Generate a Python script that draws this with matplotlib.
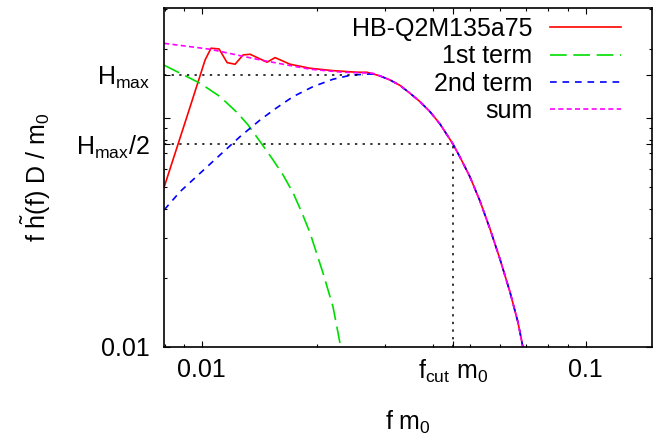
import matplotlib
matplotlib.use("Agg")
import matplotlib.pyplot as plt
from matplotlib.ticker import FixedLocator, LogLocator, NullFormatter

plt.rcParams['font.family'] = ['Liberation Sans', 'DejaVu Sans']
plt.rcParams['mathtext.fontset'] = 'custom'
plt.rcParams['mathtext.rm'] = 'Liberation Sans'
plt.rcParams['mathtext.it'] = 'Liberation Sans'
plt.rcParams['mathtext.bf'] = 'Liberation Sans:bold'

# ---- data ----
# shared high-frequency fall-off (all three of red / 2nd term / sum coincide there)
f_tail = [0.02912, 0.03093, 0.03284, 0.03487, 0.03703, 0.03932, 0.04175, 0.04512,
          0.04707, 0.04998, 0.05307, 0.05635, 0.05984, 0.06354, 0.06664, 0.06866]
h_tail = [0.1526, 0.1465, 0.1387, 0.1282, 0.1178, 0.1065, 0.0941, 0.0770,
          0.0675, 0.0553, 0.0434, 0.0328, 0.0242, 0.01739, 0.01285, 0.0100]

f_red_head = [0.00798, 0.00932, 0.01020, 0.01057, 0.01109, 0.01164, 0.01221, 0.01281,
              0.01336, 0.01479, 0.01552, 0.01698, 0.01914, 0.02198, 0.02537, 0.02695]
h_red_head = [0.0500, 0.1117, 0.1792, 0.2016, 0.2001, 0.1744, 0.1716, 0.1884,
              0.1897, 0.1751, 0.1834, 0.1716, 0.1648, 0.1609, 0.1583, 0.1583]

f_t1 = [0.00798, 0.00990, 0.01116, 0.01236, 0.01281, 0.01320, 0.01419, 0.01533,
        0.01628, 0.01729, 0.01824, 0.01914, 0.02070, 0.02198, 0.02291, 0.02305]
h_t1 = [0.1699, 0.1417, 0.1239, 0.1055, 0.0987, 0.0932, 0.0788, 0.0656,
        0.0564, 0.0471, 0.0385, 0.0315, 0.0210, 0.01495, 0.01041, 0.0100]

f_t2_head = [0.00798, 0.00878, 0.00990, 0.01116, 0.01258, 0.01419, 0.01552, 0.01729,
             0.01949, 0.02198, 0.02462, 0.02793]
h_t2_head = [0.0397, 0.0477, 0.0574, 0.0690, 0.0829, 0.0980, 0.1095, 0.1239,
             0.1370, 0.1476, 0.1541, 0.1557]

f_sum_head = [0.00798, 0.01051, 0.01419, 0.01914, 0.02333, 0.02793]
h_sum_head = [0.2117, 0.1995, 0.1792, 0.1632, 0.1583, 0.1567]

H_max = 0.154
f_cut = 0.0451
f_peak = 0.0263

series_labels = ['HB-Q2M135a75', '1st term', '2nd term', 'sum']
x_tick_labels = ['0.01', r'$\mathrm{f_{cut}\ m_0}$', '0.1']
y_tick_labels = ['0.01', r'$\mathrm{H_{max}/2}$', '', r'$\mathrm{H_{max}}$']

f_red, h_red = f_red_head + f_tail, h_red_head + h_tail
f_t2, h_t2 = f_t2_head + f_tail, h_t2_head + h_tail
f_sum, h_sum = f_sum_head + f_tail, h_sum_head + h_tail

# ---- figure ----
fig = plt.figure(figsize=(6.68, 4.36), dpi=100)
ax = fig.add_axes([164/668, 1-347/436, (652-164)/668, (347-8)/436])
ax.set_xscale('log')
ax.set_yscale('log')
ax.set_xlim(0.00797, 0.149)
ax.set_ylim(0.01, 0.302)

lw = 1.2
ax.plot(f_red, h_red, color='#ff0000', lw=lw, label=series_labels[0])
ax.plot(f_t1, h_t1, color='#00dd00', lw=lw, dashes=(10, 4), label=series_labels[1])
ax.plot(f_t2, h_t2, color='#0000ff', lw=lw, dashes=(4, 3.5), label=series_labels[2])
ax.plot(f_sum, h_sum, color='#ff00ff', lw=lw, dashes=(3, 2), label=series_labels[3])

dot = dict(color='black', lw=1.1, linestyle=(0, (1.5, 3.5)))
ax.plot([0.00797, f_peak], [H_max, H_max], **dot)
ax.plot([0.00797, f_cut], [H_max/2, H_max/2], **dot)
ax.plot([f_cut, f_cut], [0.01, H_max/2], **dot)

ax.xaxis.set_major_locator(FixedLocator([0.01, f_cut, 0.1]))
ax.set_xticklabels(x_tick_labels)
ax.xaxis.set_minor_locator(LogLocator(base=10, subs=range(2, 10)))
ax.xaxis.set_minor_formatter(NullFormatter())
ax.yaxis.set_major_locator(FixedLocator([0.01, H_max/2, 0.1, H_max]))
ax.set_yticklabels(y_tick_labels)
ax.yaxis.set_minor_locator(LogLocator(base=10, subs=range(2, 10)))
ax.yaxis.set_minor_formatter(NullFormatter())

ax.tick_params(which='both', direction='in', top=True, right=True, width=0.8)
ax.tick_params(which='major', length=4.5, labelsize=18)
ax.tick_params(which='minor', length=2.2)
ax.tick_params(axis='x', which='major', pad=8)
ax.tick_params(axis='y', which='major', pad=10)
for s in ax.spines.values():
    s.set_linewidth(1.2)

ax.set_xlabel(r'$\mathrm{f\ m_0}$', fontsize=18, labelpad=17)
ax.set_ylabel(r'$\mathrm{f\ \tilde{h}(f)\ D\ /\ m_0}$', fontsize=18, labelpad=17)

leg = ax.legend(loc='upper right', bbox_to_anchor=((621-164)/488, (347-17)/339),
                fontsize=18, frameon=False, markerfirst=False,
                handlelength=2.85, handletextpad=0.7, labelspacing=0.13,
                borderpad=0, borderaxespad=0)

fig.savefig('out.png', dpi=100)
